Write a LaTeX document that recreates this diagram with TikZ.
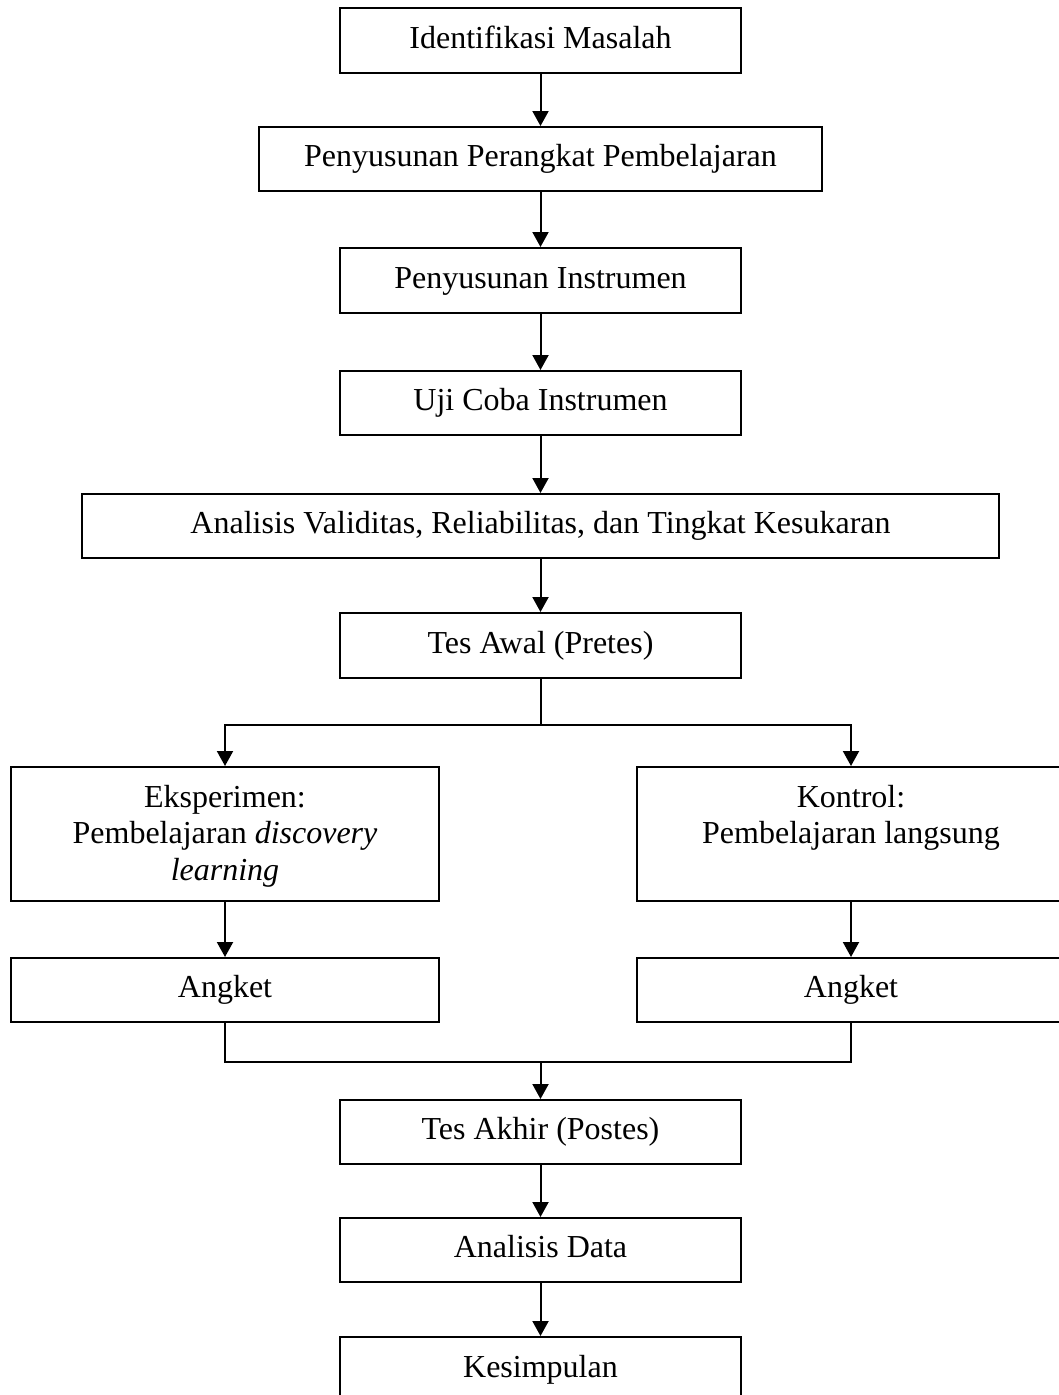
\documentclass[tikz,border=0pt]{standalone}
\usepackage{fontspec}
\setmainfont{Liberation Serif}
\usetikzlibrary{arrows.meta}
\begin{document}
\begin{tikzpicture}[x=1pt,y=-1pt,
  box/.style={draw, line width=2pt, inner sep=0pt, minimum height=65pt,
    text height=22pt, text depth=7pt, font=\fontsize{32}{36.8}\selectfont},
  bigbox/.style={box, minimum width=428pt, minimum height=134pt, align=center},
  arr/.style={-{Triangle[length=15pt,width=16pt]}, line width=2pt},
  conn/.style={line width=2pt}]
\useasboundingbox (0,0) rectangle (1059,1395);
\clip (0,0) rectangle (1059,1395);
\node[box, minimum width=401pt] (b1) at (540.5,40.5) {Identifikasi Masalah};
\node[box, minimum width=563pt, minimum height=64pt] (b2) at (540.5,159) {Penyusunan Perangkat Pembelajaran};
\node[box, minimum width=401pt] (b3) at (540.5,280.5) {Penyusunan Instrumen};
\node[box, minimum width=401pt, minimum height=64pt] (b4) at (540.5,403) {Uji Coba Instrumen};
\node[box, minimum width=917pt, minimum height=64pt] (b5) at (540.5,526) {Analisis Validitas, Reliabilitas, dan Tingkat Kesukaran};
\node[box, minimum width=401pt] (b6) at (540.5,645.5) {Tes Awal (Pretes)};
\node[bigbox, text height=100pt, text depth=6.8pt] (e) at (225,834) {Eksperimen:\\Pembelajaran \textit{discovery}\\\textit{learning}};
\node[bigbox, text height=63pt, text depth=43.4pt] (k) at (851,834) {Kontrol:\\Pembelajaran langsung};
\node[box, minimum width=428pt, minimum height=64pt] (a1) at (225,990) {Angket};
\node[box, minimum width=428pt, minimum height=64pt] (a2) at (851,990) {Angket};
\node[box, minimum width=401pt, minimum height=64pt] (b7) at (540.5,1132) {Tes Akhir (Postes)};
\node[box, minimum width=401pt, minimum height=64pt] (b8) at (540.5,1250) {Analisis Data};
\node[box, minimum width=401pt] (b9) at (540.5,1369.5) {Kesimpulan};
\coordinate (s) at (540.5,725);
\coordinate (m) at (540.5,1062);
\draw[arr] (b1.south) -- (b2.north);
\draw[arr] (b2.south) -- (b3.north);
\draw[arr] (b3.south) -- (b4.north);
\draw[arr] (b4.south) -- (b5.north);
\draw[arr] (b5.south) -- (b6.north);
\draw[conn] (b6.south) -- (s);
\draw[arr] (s) -| (e.north);
\draw[arr] (s) -| (k.north);
\draw[arr] (e.south) -- (a1.north);
\draw[arr] (k.south) -- (a2.north);
\draw[conn] (a1.south) |- (m);
\draw[conn] (a2.south) |- (m);
\draw[arr] (m) -- (b7.north);
\draw[arr] (b7.south) -- (b8.north);
\draw[arr] (b8.south) -- (b9.north);
\end{tikzpicture}
\end{document}
